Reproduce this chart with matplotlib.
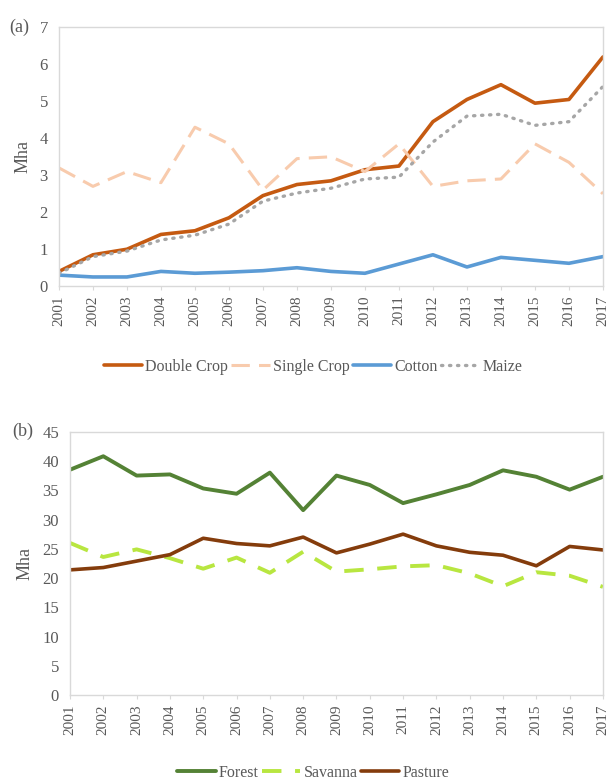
import numpy as np
import matplotlib
matplotlib.use('Agg')
import matplotlib.pyplot as plt

plt.rcParams['font.family'] = ['Liberation Serif', 'DejaVu Serif']

years = list(range(2001, 2018))

# %% panel (a) data, Mha
double_crop = [0.4, 0.85, 1.0, 1.4, 1.5, 1.85, 2.45, 2.75, 2.85, 3.15, 3.25, 4.45, 5.05, 5.45, 4.95, 5.05, 6.2]
single_crop = [3.2, 2.7, 3.1, 2.8, 4.3, 3.85, 2.6, 3.45, 3.5, 3.1, 3.85, 2.7, 2.85, 2.9, 3.85, 3.35, 2.5]
cotton = [0.3, 0.25, 0.25, 0.4, 0.35, 0.38, 0.42, 0.5, 0.4, 0.35, 0.6, 0.85, 0.52, 0.78, 0.7, 0.62, 0.8]
maize = [0.35, 0.8, 0.95, 1.25, 1.38, 1.68, 2.3, 2.52, 2.65, 2.9, 2.95, 3.9, 4.6, 4.65, 4.35, 4.45, 5.4]

# %% panel (b) data, Mha
forest = [38.5, 40.8, 37.5, 37.7, 35.3, 34.4, 38.0, 31.6, 37.5, 35.9, 32.8, 34.3, 35.9, 38.4, 37.3, 35.1, 37.3]
savanna = [26.0, 23.6, 24.9, 23.4, 21.6, 23.5, 20.9, 24.5, 21.1, 21.5, 22.0, 22.2, 20.8, 18.6, 21.0, 20.4, 18.5]
pasture = [21.4, 21.8, 22.9, 24.0, 26.8, 25.9, 25.5, 27.0, 24.3, 25.8, 27.5, 25.5, 24.4, 23.9, 22.1, 25.4, 24.8]

txt = '#595959'
grid_c = '#d9d9d9'

fig = plt.figure(figsize=(6.14, 7.82), dpi=100)
ax1 = fig.add_axes([0.096, 0.634, 0.886, 0.331])
ax2 = fig.add_axes([0.114, 0.111, 0.868, 0.337])


def style_axis(ax, ymax, ystep):
    ax.set_xlim(2001, 2017)
    ax.set_ylim(0, ymax)
    ax.set_yticks(np.arange(0, ymax + 0.1, ystep))
    ax.set_xticks(years)
    ax.set_xticklabels([str(y) for y in years], rotation=90)
    for s in ax.spines.values():
        s.set_color(grid_c)
        s.set_linewidth(1.0)
    ax.tick_params(axis='x', colors=grid_c, length=3, labelcolor=txt, labelsize=11)
    ax.tick_params(axis='y', length=0, labelcolor=txt, labelsize=12, pad=8)
    ax.set_ylabel('Mha', color=txt, fontsize=13, labelpad=6)


ax1.plot(years, double_crop, color='#c55a11', lw=2.6, label='Double Crop', solid_capstyle='round')
ax1.plot(years, single_crop, color='#f8cbad', lw=2.2, ls=(0, (6, 3)), label='Single Crop')
ax1.plot(years, cotton, color='#5b9bd5', lw=2.6, label='Cotton', solid_capstyle='round')
ax1.plot(years, maize, color='#a6a6a6', lw=2.4, ls=(0, (0.4, 2.0)), dash_capstyle='round', label='Maize')
style_axis(ax1, 7, 1)
ax1.text(-0.092, 1.0, '(a)', transform=ax1.transAxes, fontsize=13, color=txt, va='center')

ax2.plot(years, forest, color='#548235', lw=2.8, label='Forest', solid_capstyle='round')
ax2.plot(years, savanna, color='#b8e640', lw=2.8, ls=(0, (5, 3.5)), label='Savanna')
ax2.plot(years, pasture, color='#843c0c', lw=2.6, label='Pasture', solid_capstyle='round')
style_axis(ax2, 45, 5)
ax2.text(-0.108, 1.0, '(b)', transform=ax2.transAxes, fontsize=13, color=txt, va='center')

h, l = ax1.get_legend_handles_labels()
fig.legend(h, l, loc='center', bbox_to_anchor=(0.51, 1 - 367 / 782), ncol=4, frameon=False,
           fontsize=11.5, labelcolor=txt, handlelength=2.4, handletextpad=0.2, columnspacing=0.2)
h, l = ax2.get_legend_handles_labels()
fig.legend(h, l, loc='center', bbox_to_anchor=(0.51, 1 - 773 / 782), ncol=3, frameon=False,
           fontsize=11.5, labelcolor=txt, handlelength=2.4, handletextpad=0.2, columnspacing=0.2)

fig.savefig('out.png', dpi=100, facecolor='white')
